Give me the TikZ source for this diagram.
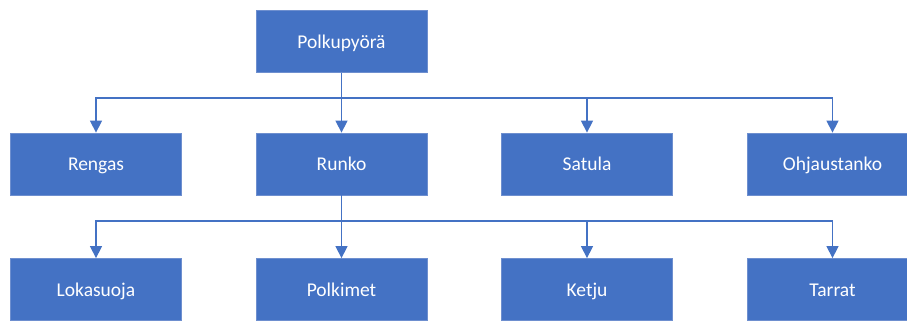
\documentclass[tikz,border=0pt]{standalone}
\usepackage{fontspec}
\setmainfont{Carlito}
\usetikzlibrary{arrows.meta}
\definecolor{officeblue}{HTML}{4472C4}
\definecolor{boxedge}{HTML}{6E8FCF}
\begin{document}
\begin{tikzpicture}[x=1pt,y=-1pt,
  item/.style={rectangle, fill=officeblue, draw=boxedge, line width=0.8pt,
    minimum width=171pt, minimum height=62pt, inner sep=0pt,
    text height=13pt, text depth=0pt,
    text=white, font=\fontsize{19.5}{23}\selectfont},
  link/.style={draw=officeblue, line width=1.4pt,
    -{Triangle[length=12pt,width=12pt]}}]
  \useasboundingbox (0,0) rectangle (907,322);
  \clip (0,0) rectangle (907,322);

  % root
  \node[item] (root) at (341.5,41.5) {Polkupyörä};

  % first level
  \node[item] (rengas) at (96,164) {Rengas};
  \node[item] (runko)  at (341.5,164) {Runko};
  \node[item] (satula) at (587,164) {Satula};
  \node[item] (ohjaus) at (832.5,164) {Ohjaustanko};

  % second level
  \node[item] (loka)   at (96,289.5) {Lokasuoja};
  \node[item] (polk)   at (341.5,289.5) {Polkimet};
  \node[item] (ketju)  at (587,289.5) {Ketju};
  \node[item] (tarrat) at (832.5,289.5) {Tarrat};

  % buses below the parents
  \coordinate (busA) at (341.5,98);
  \coordinate (busB) at (341.5,221);

  \foreach \c in {rengas,runko,satula,ohjaus}
    \draw[link] (root.south) -- (busA) -| (\c.north);
  \foreach \c in {loka,polk,ketju,tarrat}
    \draw[link] (runko.south) -- (busB) -| (\c.north);
\end{tikzpicture}
\end{document}
